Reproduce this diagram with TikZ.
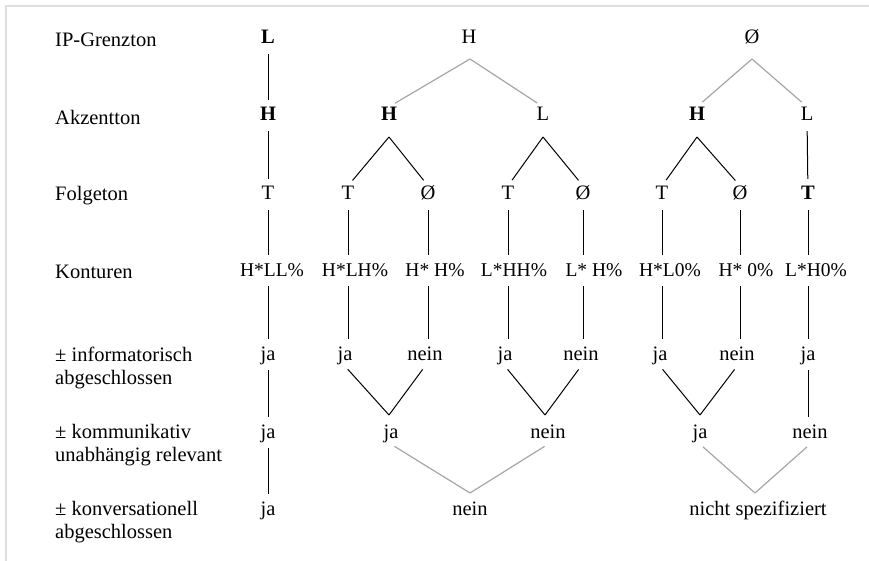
\documentclass[tikz,border=0pt]{standalone}
\usepackage{fontspec}
\setmainfont{Liberation Serif}
\usepackage{tikz}

\begin{document}
\begin{tikzpicture}[x=1pt, y=-1pt,
  lab/.style={anchor=west, align=left, inner sep=0pt, font=\fontsize{20.5}{23}\selectfont},
  val/.style={inner xsep=1pt, inner ysep=2pt, text height=12pt, text depth=4pt, font=\fontsize{20.5}{22}\selectfont},
  kon/.style={val, font=\fontsize{19.5}{22}\selectfont},
  ln/.style={line width=1pt, shorten <=4pt, shorten >=7pt},
  gln/.style={ln, gray!70, line width=1.2pt}]
\useasboundingbox (0, 0) rectangle (869, 561);
\draw[gray!25, line width=1.2pt] (6, 561) -- (6, 6) -- (869, 6);

% Zeilenbeschriftungen
\node[lab] (lIP) at (55, 40) {IP-Grenzton};
\node[lab] (lAk) at (55, 117) {Akzentton};
\node[lab] (lFo) at (55, 196) {Folgeton};
\node[lab] (lKo) at (55, 272) {Konturen};
\node[lab] (lIn) at (55, 367.5) {± informatorisch\\abgeschlossen};
\node[lab] (lKm) at (55, 445.5) {± kommunikativ\\unabhängig relevant};
\node[lab] (lKv) at (55, 522.5) {± konversationell\\abgeschlossen};

% IP-Grenzton
\node[val] (ip1) at (268, 40) {\textbf{L}};
\node[val] (ip2) at (469, 40) {H};
\node[val] (ip3) at (752, 40) {Ø};

% Akzentton
\node[val] (ak1) at (268, 117) {\textbf{H}};
\node[val] (ak2) at (389, 117) {\textbf{H}};
\node[val] (ak3) at (543, 117) {L};
\node[val] (ak4) at (697, 117) {\textbf{H}};
\node[val] (ak5) at (807, 117) {L};

% Folgeton
\node[val] (fo1) at (268, 196) {T};
\node[val] (fo2) at (348, 196) {T};
\node[val] (fo3) at (428, 196) {Ø};
\node[val] (fo4) at (508, 196) {T};
\node[val] (fo5) at (583, 196) {Ø};
\node[val] (fo6) at (662, 196) {T};
\node[val] (fo7) at (740, 196) {Ø};
\node[val] (fo8) at (808, 196) {\textbf{T}};

% Konturen
\node[kon] (ko1) at (272, 272) {H*LL\%};
\node[kon] (ko2) at (355, 272) {H*LH\%};
\node[kon] (ko3) at (435, 272) {H* H\%};
\node[kon] (ko4) at (514, 272) {L*HH\%};
\node[kon] (ko5) at (594, 272) {L* H\%};
\node[kon] (ko6) at (670, 272) {H*L0\%};
\node[kon] (ko7) at (746, 272) {H* 0\%};
\node[kon] (ko8) at (816, 272) {L*H0\%};

% informatorisch abgeschlossen
\node[val] (in1) at (268, 356) {ja};
\node[val] (in2) at (345, 356) {ja};
\node[val] (in3) at (425, 356) {nein};
\node[val] (in4) at (505, 356) {ja};
\node[val] (in5) at (581, 356) {nein};
\node[val] (in6) at (660, 356) {ja};
\node[val] (in7) at (737, 356) {nein};
\node[val] (in8) at (808, 356) {ja};

% kommunikativ relevant
\node[val] (km1) at (268, 434) {ja};
\node[val] (km2) at (391, 434) {ja};
\node[val] (km3) at (548, 434) {nein};
\node[val] (km4) at (700, 434) {ja};
\node[val] (km5) at (810, 434) {nein};

% konversationell abgeschlossen
\node[val] (kv1) at (268, 511) {ja};
\node[val] (kv2) at (470, 511) {nein};
\node[val] (kv3) at (758, 511) {nicht spezifiziert};

% Knickpunkte
\coordinate (a1) at (470, 59);
\coordinate (a2) at (752, 59);
\coordinate (b1) at (389, 137);
\coordinate (b2) at (543, 137);
\coordinate (b3) at (697, 137);
\coordinate (c1) at (389, 415);
\coordinate (c2) at (545, 415);
\coordinate (c3) at (700, 415);
\coordinate (d1) at (470, 493);
\coordinate (d2) at (755, 493);

\draw[ln] (ip1) -- (ak1);
\draw[gln, shorten <=0pt] (a1) -- (ak2.north);
\draw[gln, shorten <=0pt] (a1) -- (ak3.north);
\draw[gln, shorten <=0pt] (a2) -- (ak4.north);
\draw[gln, shorten <=0pt] (a2) -- (ak5.north);

\draw[ln] (ak1) -- (fo1);
\draw[ln, shorten <=0pt] (b1) -- (fo2.north);
\draw[ln, shorten <=0pt] (b1) -- (fo3.north);
\draw[ln, shorten <=0pt] (b2) -- (fo4.north);
\draw[ln, shorten <=0pt] (b2) -- (fo5.north);
\draw[ln, shorten <=0pt] (b3) -- (fo6.north);
\draw[ln, shorten <=0pt] (b3) -- (fo7.north);
\draw[ln] (ak5) -- (fo8);

\foreach \i in {1,...,8}
  \draw[ln] (fo\i.south) -- (fo\i.south |- ko\i.north);
\foreach \i in {1,...,8}
  \draw[ln] (fo\i.south |- ko\i.south) -- (fo\i.south |- in\i.north);

\draw[ln] (in1) -- (km1);
\draw[ln, shorten >=0pt] (in2.south) -- (c1);
\draw[ln, shorten >=0pt] (in3.south) -- (c1);
\draw[ln, shorten >=0pt] (in4.south) -- (c2);
\draw[ln, shorten >=0pt] (in5.south) -- (c2);
\draw[ln, shorten >=0pt] (in6.south) -- (c3);
\draw[ln, shorten >=0pt] (in7.south) -- (c3);
\draw[ln] (in8) -- (in8 |- km5.north);

\draw[ln] (km1) -- (kv1);
\draw[gln, shorten >=0pt] (km2.south) -- (d1);
\draw[gln, shorten >=0pt] (km3.south) -- (d1);
\draw[gln, shorten >=0pt] (km4.south) -- (d2);
\draw[gln, shorten >=0pt] (km5.south) -- (d2);
\end{tikzpicture}
\end{document}
